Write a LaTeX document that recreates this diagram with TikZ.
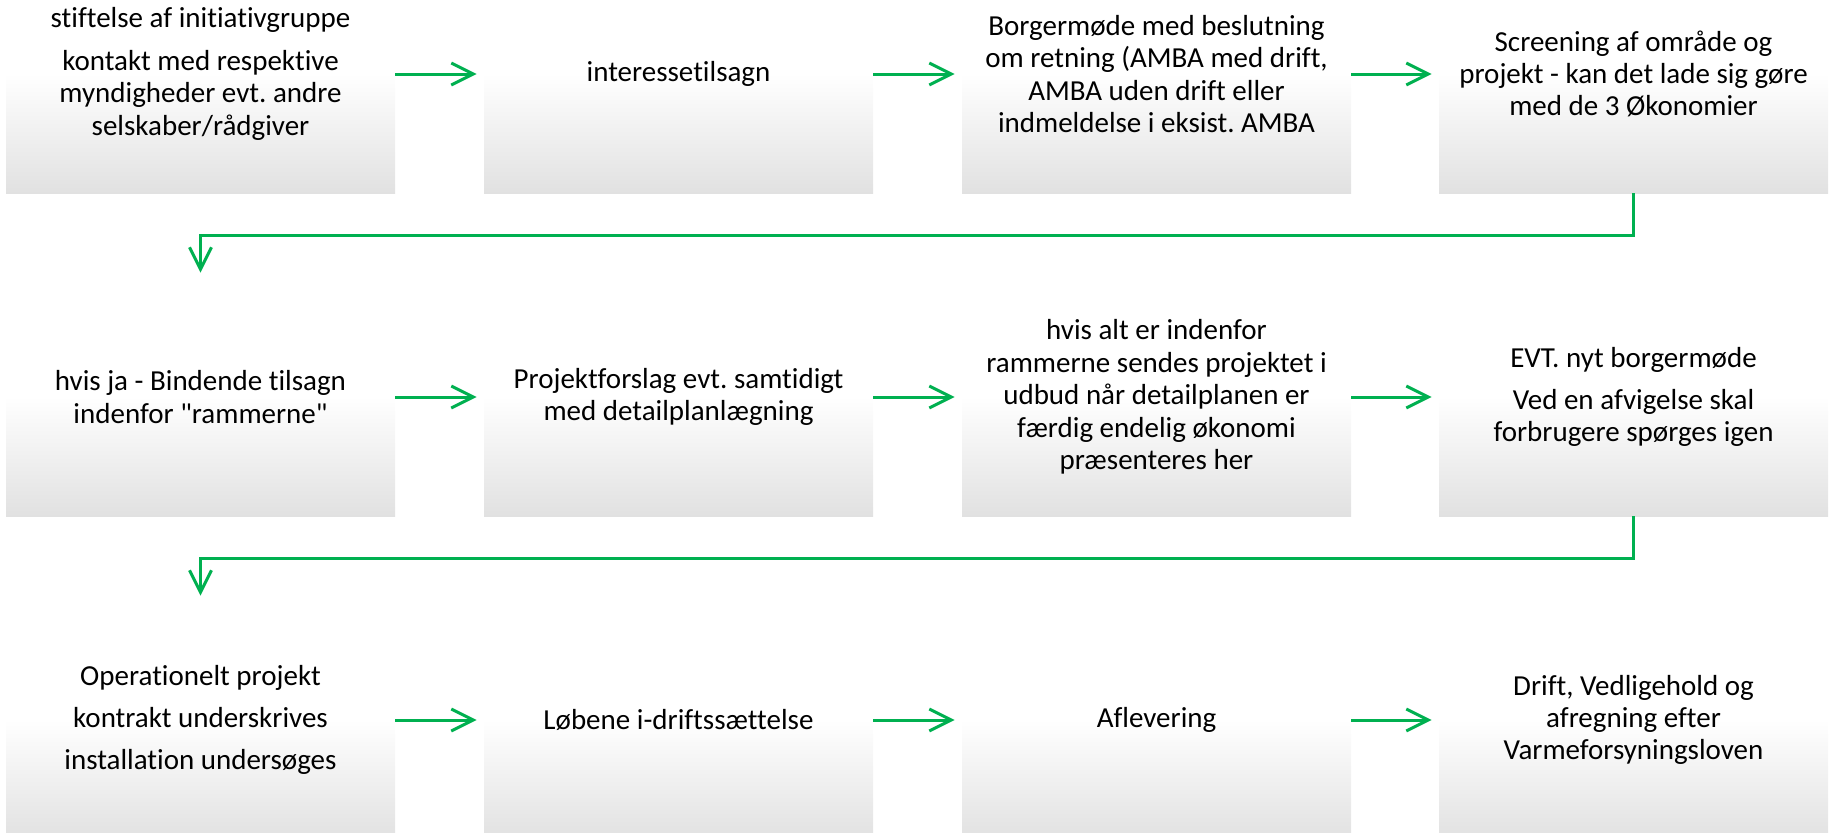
\documentclass[tikz,border=0pt]{standalone}
\usepackage{fontspec}
\newfontfamily\boxfont{Carlito}[Ligatures=NoCommon]
\usepackage{tikz}
\usetikzlibrary{arrows.meta,calc,positioning}
\definecolor{flowgreen}{RGB}{0,176,80}
\definecolor{boxgray}{RGB}{225,225,225}
\pgfdeclareverticalshading{boxshade}{100bp}{color(0bp)=(boxgray); color(25bp)=(boxgray); color(50bp)=(white); color(100bp)=(white)}
\frenchspacing

\begin{document}
\begin{tikzpicture}[x=0.5pt,y=-0.5pt,
    box/.style={rectangle,inner sep=0pt,minimum width=194.5pt,minimum height=119pt,
        shading=boxshade,align=center,
        font=\boxfont\fontsize{14.5}{16.2}\selectfont},
    flow/.style={draw=flowgreen,line width=1.5pt,
        -{Straight Barb[length=11pt,width=11pt,line width=1.5pt]},shorten >=3.5pt}]
    \useasboundingbox (0,0) rectangle (1835,832);
    \clip (0,0) rectangle (1835,832);

    % Row 1
    \node[box] (stiftelse) at (200.5,74) {stiftelse af initiativgruppe\\[5pt]kontakt med respektive\\myndigheder evt. andre\\selskaber/rådgiver};
    \node[box] (interesse) at (678.5,74) {interessetilsagn};
    \node[box] (borgermoede) at (1156.5,74) {Borgermøde med beslutning\\om retning (AMBA med drift,\\AMBA uden drift eller\\indmeldelse i eksist. AMBA};
    \node[box] (screening) at (1633.5,74) {Screening af område og\\projekt - kan det lade sig gøre\\med de 3 Økonomier};

    % Row 2
    \node[box] (bindende) at (200.5,397) {hvis ja - Bindende tilsagn\\indenfor "rammerne"};
    \node[box] (forslag) at (678.5,397) {Projektforslag evt. samtidigt\\med detailplanlægning};
    \node[box] (udbud) at (1156.5,397) {hvis alt er indenfor\\rammerne sendes projektet i\\udbud når detailplanen er\\færdig endelig økonomi\\præsenteres her};
    \node[box] (nytmoede) at (1633.5,397) {EVT. nyt borgermøde\\[5pt]Ved en afvigelse skal\\forbrugere spørges igen};

    % Row 3
    \node[box] (operationelt) at (200.5,720) {Operationelt projekt\\[5pt]kontrakt underskrives\\[5pt]installation undersøges};
    \node[box] (idrift) at (678.5,720) {Løbene i-driftssættelse};
    \node[box] (aflevering) at (1156.5,720) {Aflevering};
    \node[box] (drift) at (1633.5,720) {Drift, Vedligehold og\\afregning efter\\Varmeforsyningsloven};

    % Arrows along rows
    \draw[flow] (stiftelse) -- (interesse);
    \draw[flow] (interesse) -- (borgermoede);
    \draw[flow] (borgermoede) -- (screening);
    \draw[flow] (bindende) -- (forslag);
    \draw[flow] (forslag) -- (udbud);
    \draw[flow] (udbud) -- (nytmoede);
    \draw[flow] (operationelt) -- (idrift);
    \draw[flow] (idrift) -- (aflevering);
    \draw[flow] (aflevering) -- (drift);

    % Bends down to next row
    \draw[flow,shorten >=2.5pt] (screening.south) -- ($(screening.south)!.5!(screening.south|-bindende.north)$) -| (bindende.north);
    \draw[flow,shorten >=2.5pt] (nytmoede.south) -- ($(nytmoede.south)!.5!(nytmoede.south|-operationelt.north)$) -| (operationelt.north);
\end{tikzpicture}
\end{document}
